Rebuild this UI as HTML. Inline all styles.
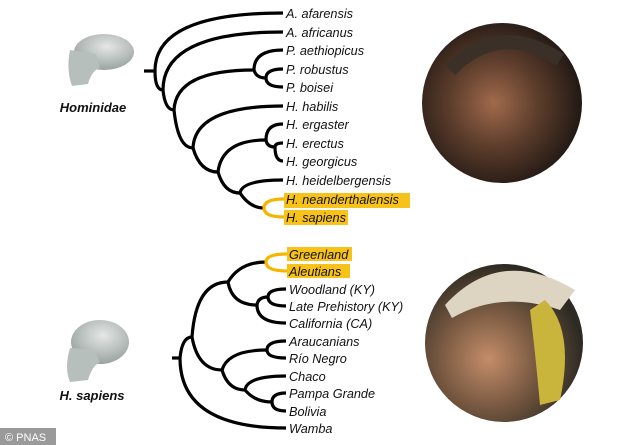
<!DOCTYPE html>
<html><head><meta charset="utf-8"><style>
html,body{margin:0;padding:0;background:#fff;}
svg{display:block}
text{font-family:"Liberation Sans",sans-serif;font-style:italic;font-size:12.7px;fill:#111}
</style></head><body>
<svg width="634" height="445" viewBox="0 0 634 445">
<defs>
<radialGradient id="g1" cx="45%" cy="50%" r="60%"><stop offset="0" stop-color="#a06a4c"/><stop offset="0.45" stop-color="#5e3e2c"/><stop offset="1" stop-color="#171210"/></radialGradient>
<radialGradient id="g2" cx="40%" cy="60%" r="60%"><stop offset="0" stop-color="#c48d6a"/><stop offset="0.5" stop-color="#7a5a42"/><stop offset="1" stop-color="#2c2a22"/></radialGradient>
<radialGradient id="sk" cx="55%" cy="35%" r="65%"><stop offset="0" stop-color="#e4e8e6"/><stop offset="1" stop-color="#9aa3a0"/></radialGradient>
</defs>
<!-- skulls -->
<ellipse cx="104" cy="52" rx="30" ry="18" fill="url(#sk)"/>
<path d="M70 50 Q66 70 72 86 L88 84 Q92 70 100 68 L96 54 Z" fill="#b7bfbc"/>
<ellipse cx="100" cy="342" rx="29" ry="22" fill="url(#sk)"/>
<path d="M70 348 Q64 368 70 382 L88 380 Q92 366 100 362 L94 350 Z" fill="#b7bfbc"/>
<text x="93" y="112" text-anchor="middle" style="font-weight:bold;font-size:13px">Hominidae</text>
<text x="92" y="400" text-anchor="middle" style="font-weight:bold;font-size:13px">H. sapiens</text>
<!-- photos -->
<circle cx="502" cy="103" r="80" fill="url(#g1)"/>
<path d="M450 70 Q500 20 560 60" stroke="#3a3028" stroke-width="14" fill="none"/>
<circle cx="504" cy="343" r="79" fill="url(#g2)"/>
<path d="M445 305 Q500 245 575 290 L560 310 Q500 290 452 318 Z" fill="#ddd4c2"/>
<path d="M545 300 Q575 330 560 400 L540 405 Q535 350 530 310 Z" fill="#c9b43c"/>
<!-- PNAS -->
<rect x="0" y="428" width="56" height="17" fill="#9a9a9a"/>
<text x="5" y="441" style="font-style:normal;fill:#fff;font-size:11px">© PNAS</text>
<!-- highlights -->
<g fill="#f7c31b">
<rect x="284" y="193" width="126" height="15"/>
<rect x="284" y="210" width="64" height="15"/>
<rect x="287" y="247" width="65" height="14"/>
<rect x="287" y="264" width="63" height="14"/>
</g>
<!-- top tree -->
<g stroke="#000" stroke-width="3.2" fill="none" stroke-linecap="butt">
<path d="M144 71 H156"/>
<path d="M155 71 Q155 13 283 13"/>
<path d="M155 71 Q155 90 163 90"/>
<path d="M163 90 Q163 32 283 32"/>
<path d="M163 90 Q165 110 174 110"/>
<path d="M174 110 Q176 70 254 70"/>
<path d="M254 70 Q254 50 283 50"/>
<path d="M254 70 Q256 78 266 78"/>
<path d="M266 78 Q266 69 283 69"/>
<path d="M266 78 Q266 87 283 87"/>
<path d="M174 110 Q178 148 193 148"/>
<path d="M193 148 Q195 106 283 106"/>
<path d="M193 148 Q200 172 218 172"/>
<path d="M218 172 Q222 140 266 140"/>
<path d="M266 140 Q266 124 283 124"/>
<path d="M266 140 Q267 147 275 147"/>
<path d="M275 147 Q275 143 283 143"/>
<path d="M275 147 Q275 161 283 161"/>
<path d="M218 172 Q224 193 240 193"/>
<path d="M240 193 Q242 180 283 180"/>
<path d="M240 193 Q250 208 264 208"/>
</g>
<g stroke="#f7b500" stroke-width="3.2" fill="none">
<path d="M264 208 Q264 199 284 199"/>
<path d="M264 208 Q264 217 284 217"/>
</g>
<!-- bottom tree -->
<g stroke="#000" stroke-width="3.2" fill="none">
<path d="M172 358 H181"/>
<path d="M180 358 Q182 337 192 337"/>
<path d="M180 358 Q180 428 286 428"/>
<path d="M192 337 Q196 282 228 282"/>
<path d="M228 282 Q240 262 266 262"/>
<path d="M228 282 Q232 305 257 305"/>
<path d="M257 305 Q257 323 286 323"/>
<path d="M257 305 Q258 297 268 297"/>
<path d="M268 297 Q268 289 286 289"/>
<path d="M268 297 Q268 306 286 306"/>
<path d="M192 337 Q198 370 222 370"/>
<path d="M222 370 Q228 350 267 350"/>
<path d="M267 350 Q267 341 286 341"/>
<path d="M267 350 Q267 358 286 358"/>
<path d="M222 370 Q228 390 245 390"/>
<path d="M245 390 Q247 376 286 376"/>
<path d="M245 390 Q255 402 272 402"/>
<path d="M272 402 Q272 393 286 393"/>
<path d="M272 402 Q272 411 286 411"/>
</g>
<g stroke="#f7b500" stroke-width="3.2" fill="none">
<path d="M266 262 Q266 254 287 254"/>
<path d="M266 262 Q266 271 287 271"/>
</g>
<!-- top labels -->
<g>
<text x="286" y="18">A. afarensis</text>
<text x="286" y="37">A. africanus</text>
<text x="286" y="55">P. aethiopicus</text>
<text x="286" y="74">P. robustus</text>
<text x="286" y="92">P. boisei</text>
<text x="286" y="111">H. habilis</text>
<text x="286" y="129">H. ergaster</text>
<text x="286" y="148">H. erectus</text>
<text x="286" y="166">H. georgicus</text>
<text x="286" y="185">H. heidelbergensis</text>
<text x="286" y="204">H. neanderthalensis</text>
<text x="286" y="222">H. sapiens</text>
</g>
<g>
<text x="289" y="259">Greenland</text>
<text x="289" y="276">Aleutians</text>
<text x="289" y="294">Woodland (KY)</text>
<text x="289" y="311">Late Prehistory (KY)</text>
<text x="289" y="328">California (CA)</text>
<text x="289" y="346">Araucanians</text>
<text x="289" y="363">Río Negro</text>
<text x="289" y="381">Chaco</text>
<text x="289" y="398">Pampa Grande</text>
<text x="289" y="416">Bolivia</text>
<text x="289" y="433">Wamba</text>
</g>
</svg>
</body></html>
